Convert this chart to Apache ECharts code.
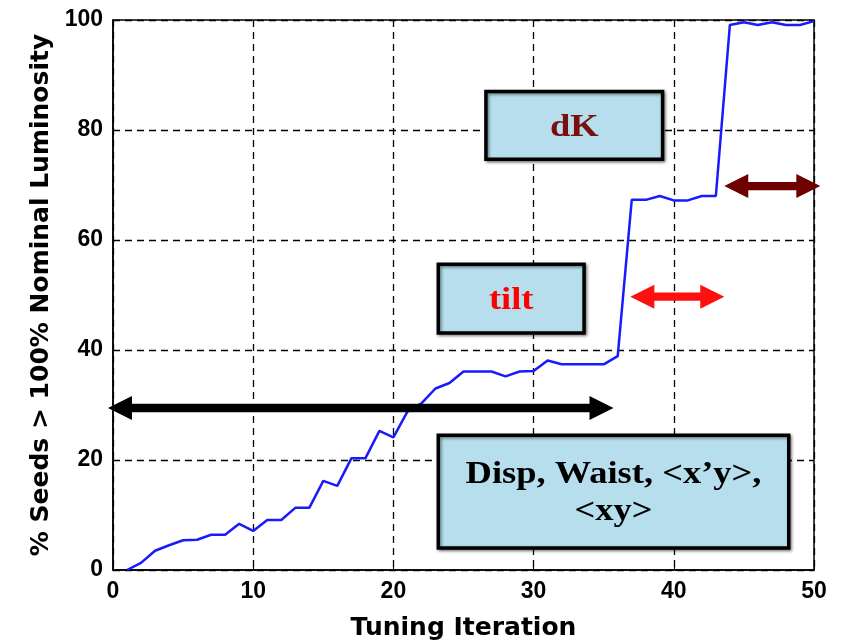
<!DOCTYPE html>
<html>
<head>
<meta charset="utf-8">
<script src="https://cdn.jsdelivr.net/npm/echarts@6/dist/echarts.min.js"></script>
<style>
  html, body { margin: 0; padding: 0; background: #fff; }
  #chart { width: 844px; height: 641px; }
</style>
</head>
<body>
<div id="chart"></div>
<script>
// Tuning progress: share of seeds above nominal luminosity per iteration
const iterations = [1, 2, 3, 4, 5, 6, 7, 8, 9, 10,
  11, 12, 13, 14, 15, 16, 17, 18, 19, 20,
  21, 22, 23, 24, 25, 26, 27, 28, 29, 30,
  31, 32, 33, 34, 35, 36, 37, 38, 39, 40,
  41, 42, 43, 44, 45, 46, 47, 48, 49, 50];
const seedsPct = [0, 1.3, 3.5, 4.5, 5.4, 5.5, 6.4, 6.4, 8.4, 7.1,
  9.1, 9.1, 11.3, 11.3, 16.2, 15.3, 20.3, 20.3, 25.3, 24.1,
  28.8, 30.3, 33.0, 34.0, 36.1, 36.1, 36.1, 35.2, 36.1, 36.2,
  38.1, 37.4, 37.4, 37.4, 37.4, 38.9, 67.3, 67.3, 68.0, 67.2,
  67.2, 68.0, 68.0, 99.1, 99.6, 99.1, 99.6, 99.1, 99.1, 99.8];

const xTicks = [0, 10, 20, 30, 40, 50];
const yTicks = [0, 20, 40, 60, 80, 100];

// Knob ranges: [fromIteration, toIteration, level]
const arrowSpans = [
  [-0.36, 35.7, 29.45],
  [36.9, 43.6, 49.7],
  [43.6, 50.45, 69.8]
];
const arrowColors = ['#000000', '#ff1010', '#6e0000'];

// Knob labels: [xLeft, xRight, yTop, yBottom]
const boxSpans = [
  [26.6, 39.2, 87.0, 74.7],
  [23.2, 33.6, 55.6, 43.1],
  [23.2, 48.2, 24.5, 4.0]
];
const boxTexts = ['dK', 'tilt', 'Disp, Waist, <x\u2019y>,\n<xy>'];
const boxTextColors = ['#7a0f0f', '#ff0000', '#000000'];

const chart = echarts.init(document.getElementById('chart'));

const lineData = iterations.map((it, i) => [it, seedsPct[i]]);

function renderArrow(params, api) {
  const i = params.dataIndex;
  const a = api.coord([arrowSpans[i][0], arrowSpans[i][2]]);
  const b = api.coord([arrowSpans[i][1], arrowSpans[i][2]]);
  const y = a[1];
  const x1 = a[0], x2 = b[0];
  const hl = 24, hh = 12, sh = 4.2;
  return {
    type: 'polygon',
    shape: {
      points: [
        [x1, y], [x1 + hl, y - hh], [x1 + hl, y - sh],
        [x2 - hl, y - sh], [x2 - hl, y - hh], [x2, y],
        [x2 - hl, y + hh], [x2 - hl, y + sh], [x1 + hl, y + sh],
        [x1 + hl, y + hh]
      ]
    },
    style: { fill: arrowColors[i] }
  };
}

function renderBox(params, api) {
  const i = params.dataIndex;
  const tl = api.coord([boxSpans[i][0], boxSpans[i][2]]);
  const br = api.coord([boxSpans[i][1], boxSpans[i][3]]);
  const w = br[0] - tl[0], h = br[1] - tl[1];
  return {
    type: 'group',
    children: [
      {
        type: 'rect',
        shape: { x: tl[0], y: tl[1], width: w, height: h },
        style: {
          fill: '#b6deed', stroke: '#000', lineWidth: 3.5,
          shadowColor: 'rgba(0,0,0,0.45)', shadowBlur: 3,
          shadowOffsetX: 1.5, shadowOffsetY: 1.5
        }
      },
      {
        type: 'text',
        x: tl[0] + w / 2,
        y: tl[1] + h / 2 + 2,
        scaleX: 1.14,
        style: {
          text: boxTexts[i],
          align: 'center', verticalAlign: 'middle',
          fontFamily: '"Liberation Serif", "Times New Roman", serif',
          fontWeight: 'bold', fontSize: 32, lineHeight: 37,
          fill: boxTextColors[i]
        }
      }
    ]
  };
}

const axisLabelStyle = {
  color: '#000', fontFamily: '"Liberation Sans", Arial, sans-serif',
  fontWeight: 'bold', fontSize: 23
};
const titleStyle = {
  color: '#000', fontFamily: '"DejaVu Sans", sans-serif',
  fontWeight: 'bold', fontSize: 25
};

chart.setOption({
  animation: false,
  backgroundColor: '#fff',
  grid: {
    left: 113, right: 30, top: 20, bottom: 71,
    containLabel: false, outerBoundsMode: 'none',
    show: true, borderColor: '#000', borderWidth: 1.5, backgroundColor: 'transparent'
  },
  xAxis: {
    type: 'value', min: xTicks[0], max: xTicks[xTicks.length - 1], interval: 10,
    name: 'Tuning Iteration', nameLocation: 'middle', nameGap: 46,
    nameTextStyle: titleStyle,
    axisLine: { lineStyle: { color: '#000', width: 1.5 } },
    axisTick: { inside: true, length: 6, lineStyle: { color: '#000' } },
    axisLabel: Object.assign({ margin: 10 }, axisLabelStyle),
    splitLine: { show: true, lineStyle: { color: '#000', type: [7, 5], width: 1.3 } }
  },
  yAxis: {
    type: 'value', min: yTicks[0], max: yTicks[yTicks.length - 1], interval: 20,
    name: '% Seeds > 100% Nominal Luminosity', nameLocation: 'middle', nameGap: 58,
    nameRotate: 90,
    nameTextStyle: titleStyle,
    axisLine: { lineStyle: { color: '#000', width: 1.5 } },
    axisTick: { inside: true, length: 6, lineStyle: { color: '#000' } },
    axisLabel: Object.assign({ margin: 10 }, axisLabelStyle),
    splitLine: { show: true, lineStyle: { color: '#000', type: [7, 5], width: 1.3 } }
  },
  series: [
    {
      type: 'line', data: lineData, symbol: 'none', z: 3,
      lineStyle: { color: '#1a1aff', width: 2.5 }
    },
    {
      type: 'custom', renderItem: renderBox, z: 4,
      data: boxSpans.map((b, i) => [b[0], b[2]])
    },
    {
      type: 'custom', renderItem: renderArrow, z: 5, clip: false,
      data: arrowSpans.map((a) => [a[0], a[2]])
    }
  ]
});
</script>
</body>
</html>
